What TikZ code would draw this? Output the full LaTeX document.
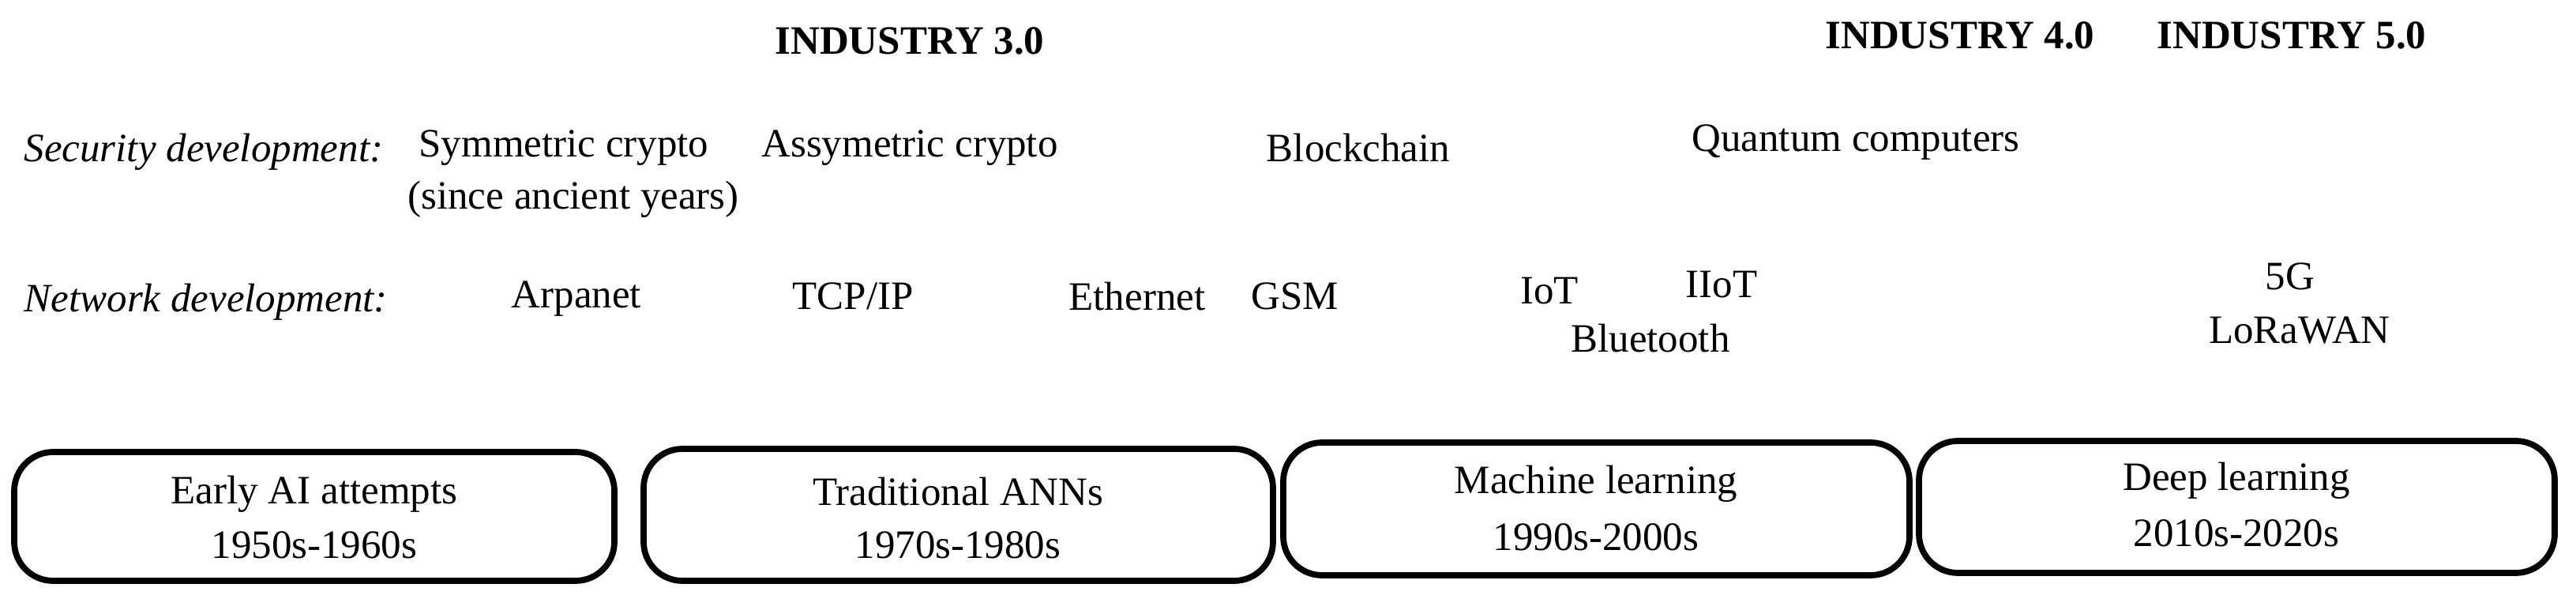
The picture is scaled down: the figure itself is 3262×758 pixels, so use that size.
\documentclass[tikz,border=0pt]{standalone}
\usepackage{fontspec}
\setmainfont{Liberation Serif}
\begin{document}
\begin{tikzpicture}[x=0.01cm,y=-0.01cm,
  lbl/.style={font=\fontsize{14.5}{17}\selectfont,inner sep=0pt},
  ind/.style={font=\fontsize{14.5}{17}\selectfont\bfseries,inner sep=0pt},
  dev/.style={font=\fontsize{14.5}{17}\selectfont\itshape,inner sep=0pt,anchor=west},
  era/.style={draw,line width=2.2pt,rounded corners=14pt,inner sep=0pt}]
\useasboundingbox (0,0) rectangle (3262,758);
\node[ind] (i3) at (1152,52) {INDUSTRY 3.0};
\node[ind] (i4) at (2482,45) {INDUSTRY 4.0};
\node[ind] (i5) at (2902,45) {INDUSTRY 5.0};
\node[dev] (sd) at (30,192) {Security development:};
\node[lbl] (sym) at (714,187) {Symmetric crypto};
\node[lbl] (anc) at (726,252) {(since ancient years)};
\node[lbl] (asy) at (1152,187) {Assymetric crypto};
\node[lbl] (bc) at (1720,187) {Blockchain};
\node[lbl] (qc) at (2350,180) {Quantum computers};
\node[dev] (nd) at (30,382) {Network development:};
\node[lbl] (arp) at (730,378) {Arpanet};
\node[lbl] (tcp) at (1080,375) {TCP/IP};
\node[lbl] (eth) at (1440,375) {Ethernet};
\node[lbl] (gsm) at (1640,375) {GSM};
\node[lbl] (iot) at (1962,368) {IoT};
\node[lbl] (iiot) at (2180,360) {IIoT};
\node[lbl] (bt) at (2090,428) {Bluetooth};
\node[lbl] (g5) at (2900,350) {5G};
\node[lbl] (lora) at (2912,418) {LoRaWAN};
\draw[era] (18,572) rectangle (778,735);
\node[lbl] (e1) at (398,625) {Early AI attempts};
\node[lbl] (y1) at (398,690) {1950s-1960s};
\draw[era] (815,568) rectangle (1612,735);
\node[lbl] (e2) at (1213,622) {Traditional ANNs};
\node[lbl] (y2) at (1213,690) {1970s-1980s};
\draw[era] (1625,560) rectangle (2418,728);
\node[lbl] (e3) at (2021,612) {Machine learning};
\node[lbl] (y3) at (2021,680) {1990s-2000s};
\draw[era] (2430,558) rectangle (3235,725);
\node[lbl] (e4) at (2832,608) {Deep learning};
\node[lbl] (y4) at (2832,675) {2010s-2020s};
\end{tikzpicture}
\end{document}
